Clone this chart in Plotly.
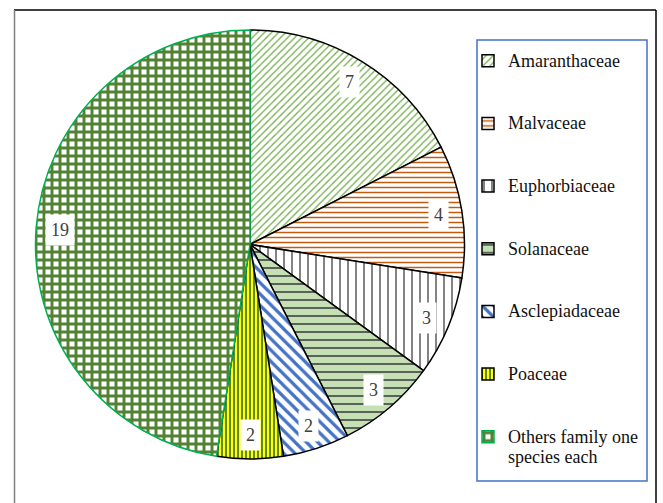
import math
import plotly.graph_objects as go

# Families and number of species recorded in each
families = ["Amaranthaceae", "Malvaceae", "Euphorbiaceae", "Solanaceae",
            "Asclepiadaceae", "Poaceae", "Others family one species each"]
legend_text = [["Amaranthaceae"], ["Malvaceae"], ["Euphorbiaceae"], ["Solanaceae"],
               ["Asclepiadaceae"], ["Poaceae"], ["Others family one", "species each"]]
species_counts = [7, 4, 3, 3, 2, 2, 19]

# Slice styling
bg_colors = ["white", "white", "white", "#C5E0B4", "white", "#FFFF00", "white"]
fg_colors = ["#70AD47", "#C55A11", "#303030", "#404040", "#4472C4", "#4E7A2A", "#548235"]
shapes_ = ["/", "-", "|", "-", "\\", "|", "+"]
sizes = [5, 5, 8, 8, 8, 4, 8]
solidity = [0.25, 0.3, 0.15, 0.2, 0.4, 0.45, 0.6]
edge_colors = ["black"] * 6 + ["#00B050"]

W, H = 663, 503
cx, cy, R = 250.0, 244.5, 214.5   # pie centre / radius in pixels
LEG_FS = 15.3                      # legend line pitch
TXT_FS = 18                        # visible legend text size

SERIF = "Liberation Serif, Times New Roman, serif"


def legend_label(lines):
    parts = [f"<span style='font-size:{TXT_FS}px'>{t}</span>" for t in lines]
    while len(parts) < 3:
        parts.append("&nbsp;")
    return "<br>".join(parts)


labels = [legend_label(l) for l in legend_text]

fig = go.Figure(go.Pie(
    labels=labels,
    values=species_counts,
    hovertext=families,
    hovertemplate="%{hovertext}: %{value}<extra></extra>",
    sort=False,
    direction="clockwise",
    rotation=0,
    textinfo="none",
    domain=dict(x=[(cx - R) / W, (cx + R) / W],
                y=[(H - cy - R) / H, (H - cy + R) / H]),
    marker=dict(
        colors=bg_colors,
        line=dict(color=edge_colors, width=1.5),
        pattern=dict(shape=shapes_, fgcolor=fg_colors, bgcolor=bg_colors,
                     size=sizes, solidity=solidity, fillmode="replace",
                     fgopacity=1),
    ),
))

# value labels in white boxes near the rim of each slice
total = sum(species_counts)
cum = 0
annotations = []
for v in species_counts:
    mid = (cum + v / 2) / total * 2 * math.pi
    cum += v
    px = cx + 0.89 * R * math.sin(mid)
    py = cy - 0.89 * R * math.cos(mid)
    annotations.append(dict(
        x=px / W, y=1 - py / H, xref="paper", yref="paper",
        text=str(v), showarrow=False, bgcolor="white", borderpad=5,
        font=dict(family=SERIF, size=18, color="#404040"),
        xanchor="center", yanchor="middle",
    ))

shapes = [
    # chart frame
    dict(type="line", xref="paper", yref="paper", x0=14 / W, x1=656 / W,
         y0=1 - 10 / H, y1=1 - 10 / H, line=dict(color="black", width=1.5)),
    dict(type="line", xref="paper", yref="paper", x0=656 / W, x1=656 / W,
         y0=1 - 10 / H, y1=0, line=dict(color="black", width=1.5)),
    dict(type="line", xref="paper", yref="paper", x0=14.5 / W, x1=14.5 / W,
         y0=1 - 10 / H, y1=0, line=dict(color="#7F7F7F", width=1.5)),
    # legend box
    dict(type="rect", xref="paper", yref="paper", x0=477 / W, x1=647 / W,
         y0=1 - 481 / H, y1=1 - 40 / H, line=dict(color="#4472C4", width=1.5)),
]

fig.update_layout(
    width=W, height=H, autosize=False,
    margin=dict(l=0, r=0, t=0, b=0),
    paper_bgcolor="white", plot_bgcolor="white",
    showlegend=True,
    legend=dict(
        x=468 / W, xanchor="left", y=1 - 44.3 / H, yanchor="top",
        bgcolor="rgba(0,0,0,0)", borderwidth=0, valign="top",
        font=dict(family=SERIF, size=LEG_FS, color="#111111"),
        traceorder="normal",
    ),
    annotations=annotations,
    shapes=shapes,
)

fig.write_html("out.html")
